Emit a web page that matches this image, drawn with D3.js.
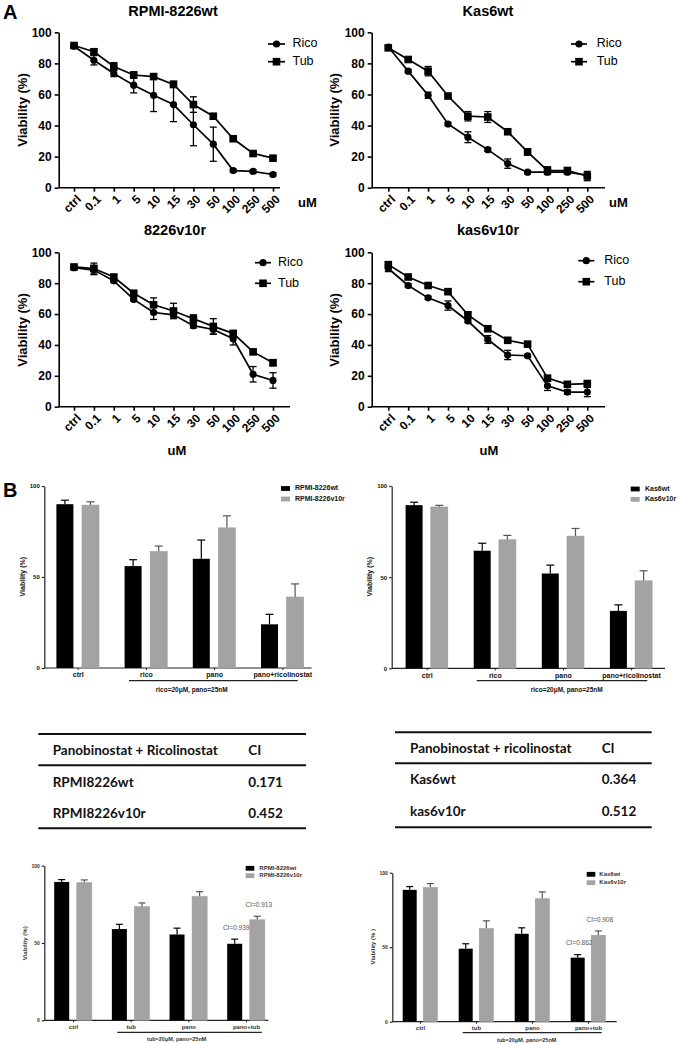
<!DOCTYPE html>
<html><head><meta charset="utf-8">
<script src="https://cdn.jsdelivr.net/npm/d3@7"></script>
<style>body{margin:0;background:#fff} svg{display:block}</style>
</head><body>
<svg id="fig" width="679" height="1044"></svg>
<script>
// ---------- DATA ----------
const doses = ["ctrl","0.1","1","5","10","15","30","50","100","250","500"];
const lineYTicks = [0,20,40,60,80,100];
const seriesNames = ["Rico","Tub"];

const rpmiWtRico    = [91, 82, 73.5, 66, 59.5, 53.5, 40.5, 28, 11, 10.5, 8.5];
const rpmiWtRicoErr = [1, 3, 2, 5, 10.5, 11, 13.5, 11, 1, 1, 1];
const rpmiWtTub     = [91.5, 87.5, 78, 72.5, 71.5, 66.5, 53.5, 46, 31.5, 22, 19];
const rpmiWtTubErr  = [1, 1.5, 2.5, 2, 1.5, 2, 5, 1.5, 1, 1, 1];

const kas6WtRico    = [90.5, 75, 59.5, 41, 32.5, 24.5, 15.5, 10, 10, 10, 8];
const kas6WtRicoErr = [1, 1, 2, 1, 3.5, 1, 3, 1, 1, 1, 1];
const kas6WtTub     = [90, 82.5, 75, 59, 46, 45.5, 36, 23, 11, 11, 7.5];
const kas6WtTubErr  = [1.5, 1, 3, 1, 3, 3.5, 1, 2, 2.5, 2, 3];

const rpmiV10rRico    = [90, 88.5, 81.5, 69.5, 61, 59.5, 52.5, 50, 44, 21, 17];
const rpmiV10rRicoErr = [1, 3, 1, 1, 4.5, 1.5, 1.5, 3, 4, 5, 5];
const rpmiV10rTub     = [90.5, 89.5, 84, 73.5, 66, 62, 57, 52, 47.5, 35.5, 28.5];
const rpmiV10rTubErr  = [1.5, 3.5, 1.5, 1.5, 4.5, 5, 2.5, 5, 1.5, 1, 2];

const kas6V10rRico    = [89.5, 78.5, 70.5, 65.5, 55.5, 43.5, 33.5, 33, 13.5, 9.5, 9.5];
const kas6V10rRicoErr = [2, 1, 1, 3, 1, 2.5, 3, 1, 3, 1.5, 3];
const kas6V10rTub     = [92, 84, 78.5, 74.5, 59.5, 50.5, 43, 40.5, 18.5, 14.5, 15];
const kas6V10rTubErr  = [1.5, 1, 1, 1, 2, 1, 1, 1, 1.5, 1.5, 1.5];

const barYTicks = [0,50,100];
const ricoGroups = ["ctrl","rico","pano","pano+ricolinostat"];
const tubGroups  = ["ctrl","tub","pano","pano+tub"];

const barRpmiWtRico     = [90, 56, 60, 24];
const barRpmiWtRicoErr  = [2.2, 3.5, 10.3, 5.5];
const barRpmiV10rRico   = [89.5, 64, 77, 39];
const barRpmiV10rRicoErr= [1.8, 3, 6.6, 7.2];
const barKas6WtRico     = [89.5, 64.5, 52, 31.5];
const barKas6WtRicoErr  = [1.6, 4.1, 4.6, 3.3];
const barKas6V10rRico   = [88.5, 70.5, 72.5, 48];
const barKas6V10rRicoErr= [0.9, 2.4, 4.2, 5.5];

const barRpmiWtTub      = [89.5, 59, 55.5, 49.5];
const barRpmiWtTubErr   = [1.5, 3.1, 4.1, 3];
const barRpmiV10rTub    = [89, 73.5, 80, 65];
const barRpmiV10rTubErr = [1.8, 2.4, 3.2, 2.3];
const barKas6WtTub      = [88.5, 49, 59, 43];
const barKas6WtTubErr   = [2.2, 3.3, 4, 2];
const barKas6V10rTub    = [90, 62.5, 82.5, 58];
const barKas6V10rTubErr = [2.7, 5.2, 4.6, 2.9];

const ciRpmiTub = ["CI=0.939", "CI=0.913"];
const ciKas6Tub = ["CI=0.862", "CI=0.908"];

const tableRpmiHeader = ["Panobinostat + Ricolinostat", "CI"];
const tableRpmiRows = [["RPMI8226wt","0.171"],["RPMI8226v10r","0.452"]];
const tableKas6Header = ["Panobinostat + ricolinostat", "CI"];
const tableKas6Rows = [["Kas6wt","0.364"],["kas6v10r","0.512"]];

// ---------- DRAWING ----------
const svg = d3.select("#fig");
svg.append("rect").attr("width",679).attr("height",1044).attr("fill","#fff");
const FONT = "'Liberation Sans', Arial, sans-serif";

function linePanel(c) {
  const g = svg.append("g").attr("font-family", FONT);
  const x = d3.scalePoint().domain(doses).range([c.x0, c.x1]);
  const y = d3.scaleLinear().domain([0,100]).range([c.yB, c.yT]);
  // y axis
  const ya = g.append("g").attr("transform",`translate(${c.axisX},0)`)
    .call(d3.axisLeft(y).tickValues(lineYTicks).tickSize(4).tickSizeOuter(0).tickPadding(3));
  ya.selectAll("path,line").attr("stroke","#000").attr("stroke-width",1.6);
  ya.selectAll("text").attr("font-size",12).attr("font-weight","bold").attr("font-family",FONT).attr("fill","#000");
  // x axis line
  g.append("line").attr("x1",c.axisX).attr("x2",c.xEnd).attr("y1",c.yB).attr("y2",c.yB)
    .attr("stroke","#000").attr("stroke-width",1.6);
  const xa = g.append("g").attr("transform",`translate(0,${c.yB})`)
    .call(d3.axisBottom(x).tickSize(4).tickSizeOuter(0));
  xa.select(".domain").remove();
  xa.selectAll("line").attr("stroke","#000").attr("stroke-width",1.6);
  xa.selectAll("text").attr("font-size",12).attr("font-weight","bold").attr("font-family",FONT)
    .attr("fill","#000").attr("text-anchor","end").attr("dy",null).attr("y",null)
    .attr("transform","translate(5,10) rotate(-45)").attr("dominant-baseline","middle");
  // series
  const ser = [
    {v:c.tub, e:c.tubE, shape:"square"},
    {v:c.rico, e:c.ricoE, shape:"circle"}
  ];
  const line = d3.line().x((d,i)=>x(doses[i])).y(d=>y(d));
  ser.forEach(s => {
    g.append("path").attr("d", line(s.v)).attr("fill","none").attr("stroke","#000").attr("stroke-width",1.7);
    s.v.forEach((v,i) => {
      const px = x(doses[i]);
      const e = s.e[i];
      if (e > 0) {
        g.append("line").attr("x1",px).attr("x2",px).attr("y1",y(v-e)).attr("y2",y(v+e)).attr("stroke","#000").attr("stroke-width",1.3);
        [v-e, v+e].forEach(t => g.append("line").attr("x1",px-3.5).attr("x2",px+3.5).attr("y1",y(t)).attr("y2",y(t)).attr("stroke","#000").attr("stroke-width",1.3));
      }
      if (s.shape === "circle") g.append("circle").attr("cx",px).attr("cy",y(v)).attr("r",3.6).attr("fill","#000");
      else g.append("rect").attr("x",px-3.8).attr("y",y(v)-3.8).attr("width",7.6).attr("height",7.6).attr("fill","#000");
    });
  });
  // title
  if (c.title) g.append("text").attr("x",c.titleX).attr("y",c.titleY).attr("text-anchor","middle")
    .attr("font-size",14.5).attr("font-weight","bold").text(c.title);
  // y label
  g.append("text").attr("transform",`translate(${c.ylabX},${c.ylabY}) rotate(-90)`).attr("text-anchor","middle")
    .attr("font-size",13).attr("font-weight","bold").text("Viability (%)");
  // unit
  g.append("text").attr("x",c.uX).attr("y",c.uY).attr("text-anchor",c.uAnchor).attr("font-size",13).attr("font-weight","bold").text("uM");
  // legend
  seriesNames.forEach((nm,i) => {
    const ly = c.legY[i];
    g.append("line").attr("x1",c.legX0).attr("x2",c.legX1).attr("y1",ly).attr("y2",ly).attr("stroke","#000").attr("stroke-width",1.7);
    const mx = (c.legX0+c.legX1)/2;
    if (i===0) g.append("circle").attr("cx",mx).attr("cy",ly).attr("r",3.6).attr("fill","#000");
    else g.append("rect").attr("x",mx-3.8).attr("y",ly-3.8).attr("width",7.6).attr("height",7.6).attr("fill","#000");
    g.append("text").attr("x",c.legTX).attr("y",ly).attr("dominant-baseline","middle").attr("font-size",12.5).text(nm);
  });
}

linePanel({x0:74, x1:273, axisX:58.7, xEnd:280, yB:187.7, yT:32.3,
  rico:rpmiWtRico, ricoE:rpmiWtRicoErr, tub:rpmiWtTub, tubE:rpmiWtTubErr,
  title:"RPMI-8226wt", titleX:173, titleY:16, ylabX:27, ylabY:110,
  uX:298, uY:207, uAnchor:"start", legX0:268, legX1:285, legTX:292.5, legY:[44,61.7]});
linePanel({x0:388.3, x1:587.3, axisX:371.7, xEnd:605, yB:187.7, yT:32.3,
  rico:kas6WtRico, ricoE:kas6WtRicoErr, tub:kas6WtTub, tubE:kas6WtTubErr,
  title:"Kas6wt", titleX:488, titleY:16, ylabX:339, ylabY:110,
  uX:609, uY:207, uAnchor:"start", legX0:571, legX1:587, legTX:596.7, legY:[44,61.7]});
linePanel({x0:74, x1:273, axisX:58.7, xEnd:290, yB:406.7, yT:252.3,
  rico:rpmiV10rRico, ricoE:rpmiV10rRicoErr, tub:rpmiV10rTub, tubE:rpmiV10rTubErr,
  title:"8226v10r", titleX:175, titleY:235, ylabX:27, ylabY:330,
  uX:177, uY:455, uAnchor:"middle", legX0:255, legX1:271, legTX:278, legY:[262.7,283.3]});
linePanel({x0:388.3, x1:587.3, axisX:371.7, xEnd:605, yB:406.7, yT:252.3,
  rico:kas6V10rRico, ricoE:kas6V10rRicoErr, tub:kas6V10rTub, tubE:kas6V10rTubErr,
  title:"kas6v10r", titleX:488, titleY:235, ylabX:339, ylabY:330,
  uX:489, uY:455, uAnchor:"middle", legX0:578.3, legX1:594.3, legTX:604.3, legY:[260.7,281.7]});

// panel letters
svg.append("text").attr("x",3).attr("y",19).attr("font-family",FONT).attr("font-size",20).attr("font-weight","bold").text("A");
svg.append("text").attr("x",3).attr("y",497).attr("font-family",FONT).attr("font-size",20).attr("font-weight","bold").text("B");

function barPanel(c) {
  const g = svg.append("g").attr("font-family", FONT).attr("fill",c.txt);
  const x = d3.scalePoint().domain(c.groups).range([c.g0, c.g1]);
  const y = d3.scaleLinear().domain([0,100]).range([c.yB, c.yT]);
  const ya = g.append("g").attr("transform",`translate(${c.axisX},0)`)
    .call(d3.axisLeft(y).tickValues(barYTicks).tickSize(2.5).tickSizeOuter(0).tickPadding(2));
  ya.selectAll("path,line").attr("stroke","#222").attr("stroke-width",1.2);
  ya.selectAll("text").attr("font-size",c.fs-1).attr("font-family",FONT).attr("fill",c.txt).attr("font-weight",c.fw);
  g.append("line").attr("x1",c.axisX).attr("x2",c.xEnd).attr("y1",c.yB).attr("y2",c.yB).attr("stroke","#222").attr("stroke-width",1.2);
  const xa = g.append("g").attr("transform",`translate(0,${c.yB})`)
    .call(d3.axisBottom(x).tickSize(2).tickSizeOuter(0).tickPadding(2.5));
  xa.select(".domain").remove();
  xa.selectAll("line").attr("stroke","#222").attr("stroke-width",1);
  xa.selectAll("text").attr("font-size",c.fs).attr("font-weight",c.fw).attr("font-family",FONT).attr("fill",c.txt);
  const sets = [
    {v:c.a, e:c.aE, fill:"#000", ec:"#000", off:-c.off},
    {v:c.b, e:c.bE, fill:"#a3a3a3", ec:"#555", off:c.off}
  ];
  sets.forEach(s => {
    s.v.forEach((v,i) => {
      const cx = x(c.groups[i]) + s.off;
      const top = y(v+s.e[i]);
      g.append("line").attr("x1",cx).attr("x2",cx).attr("y1",y(v)).attr("y2",top).attr("stroke",s.ec).attr("stroke-width",1.2);
      g.append("line").attr("x1",cx-c.cap).attr("x2",cx+c.cap).attr("y1",top).attr("y2",top).attr("stroke",s.ec).attr("stroke-width",1.2);
      g.append("rect").attr("x",cx-c.bw/2).attr("y",y(v)).attr("width",c.bw).attr("height",c.yB-y(v))
        .attr("fill",s.fill).attr("stroke",s.fill==="#000"?"none":"#9a9a9a").attr("stroke-width",0.6);
    });
  });
  // CI annotations on last group
  if (c.ci) {
    sets.forEach((s,k) => {
      const i = c.groups.length-1;
      const cx = x(c.groups[i]) + s.off + 1.5;
      g.append("text").attr("x",cx).attr("y",y(s.v[i]+s.e[i]) - 11).attr("text-anchor","middle")
        .attr("dominant-baseline","middle").attr("font-size",c.fs+0.5).attr("fill","#555").text(c.ci[k]);
    });
  }
  // underline and note
  g.append("line").attr("x1",c.ul0).attr("x2",c.ul1).attr("y1",c.ulY).attr("y2",c.ulY).attr("stroke","#222").attr("stroke-width",1.2);
  g.append("text").attr("x",(c.noteX)).attr("y",c.noteY).attr("text-anchor","middle").attr("dominant-baseline","middle")
    .attr("font-size",c.fs-0.5).attr("font-weight",c.fw).text(c.note);
  // y label
  g.append("text").attr("transform",`translate(${c.ylabX},${c.ylabY}) rotate(-90)`).attr("text-anchor","middle")
    .attr("dominant-baseline","middle").attr("font-size",c.fs).attr("font-weight",c.fw).text(c.ylab);
  // legend
  [c.legA, c.legB].forEach((nm,i) => {
    const ly = c.legY[i];
    g.append("rect").attr("x",c.legX).attr("y",ly-2.4).attr("width",c.legW).attr("height",4.8).attr("fill",i?"#a3a3a3":"#000");
    g.append("text").attr("x",c.legTX).attr("y",ly).attr("dominant-baseline","middle").attr("font-size",c.fs).attr("font-weight",c.fw).text(nm);
  });
}

barPanel({groups:ricoGroups, g0:77.7, g1:282.3, off:12.8, bw:17, cap:4, axisX:44.3, xEnd:311.7, yB:668, yT:486,
  a:barRpmiWtRico, aE:barRpmiWtRicoErr, b:barRpmiV10rRico, bE:barRpmiV10rRicoErr,
  ul0:129, ul1:297.7, ulY:680.7, note:"rico=20μM, pano=25nM", noteX:191.7, noteY:690,
  ylab:"Viability (%)", ylabX:23, ylabY:576.7, legA:"RPMI-8226wt", legB:"RPMI-8226v10r",
  legX:281, legW:9, legTX:295, legY:[488.5,499], fs:7, fw:"bold", txt:"#111"});
barPanel({groups:ricoGroups, g0:426.7, g1:631, off:12.6, bw:17, cap:4, axisX:391.7, xEnd:665, yB:668.3, yT:486,
  a:barKas6WtRico, aE:barKas6WtRicoErr, b:barKas6V10rRico, bE:barKas6V10rRicoErr,
  ul0:476.7, ul1:647.3, ulY:680.7, note:"rico=20μM, pano=25nM", noteX:566.7, noteY:690,
  ylab:"Viability (%)", ylabX:370, ylabY:576.7, legA:"Kas6wt", legB:"Kas6v10r",
  legX:630.7, legW:9, legTX:645, legY:[489,499.3], fs:7, fw:"bold", txt:"#111"});
barPanel({groups:tubGroups, g0:73, g1:246, off:11.3, bw:15, cap:3.5, axisX:44.3, xEnd:268.3, yB:1020.3, yT:865.7,
  a:barRpmiWtTub, aE:barRpmiWtTubErr, b:barRpmiV10rTub, bE:barRpmiV10rTubErr, ci:ciRpmiTub,
  ul0:117.3, ul1:261.7, ulY:1032.3, note:"tub=20μM, pano=25nM", noteX:176.7, noteY:1040,
  ylab:"Viability (%)", ylabX:25, ylabY:943.3, legA:"RPMI-8226wt", legB:"RPMI-8226v10r",
  legX:245.7, legW:8.6, legTX:259.3, legY:[868.3,875.7], fs:6, fw:"bold", txt:"#333"});
barPanel({groups:tubGroups, g0:420, g1:588, off:10.3, bw:14, cap:3.5, axisX:392.3, xEnd:616.7, yB:1021.7, yT:872.7,
  a:barKas6WtTub, aE:barKas6WtTubErr, b:barKas6V10rTub, bE:barKas6V10rTubErr, ci:ciKas6Tub,
  ul0:462.7, ul1:601.7, ulY:1032.7, note:"tub=20μM, pano=25nM", noteX:526.7, noteY:1041,
  ylab:"Viability (% )", ylabX:373.3, ylabY:946.7, legA:"Kas6wt", legB:"Kas6v10r",
  legX:586.7, legW:8.6, legTX:599.3, legY:[874.3,882.7], fs:6, fw:"bold", txt:"#333"});

function table(c) {
  const g = svg.append("g").attr("font-family","Lato, 'Open Sans', sans-serif").attr("font-weight","bold").attr("fill","#111");
  c.lines.forEach(ly => g.append("line").attr("x1",c.x0).attr("x2",c.x1).attr("y1",ly).attr("y2",ly).attr("stroke","#111").attr("stroke-width",2));
  const rows = [c.header].concat(c.rows);
  rows.forEach((r,i) => {
    g.append("text").attr("x",c.c0).attr("y",c.base[i]).attr("font-size",13.5).text(r[0]);
    g.append("text").attr("x",c.c1).attr("y",c.base[i]).attr("font-size",13.5).text(r[1]);
  });
}
table({x0:38.3, x1:306, lines:[734,765.3,828.3], c0:52.7, c1:248.3, base:[755,786.7,818.3],
  header:tableRpmiHeader, rows:tableRpmiRows});
table({x0:395, x1:651.7, lines:[732.3,763.3,827.3], c0:410, c1:601.7, base:[753.3,784.3,816],
  header:tableKas6Header, rows:tableKas6Rows});
</script>
</body></html>
